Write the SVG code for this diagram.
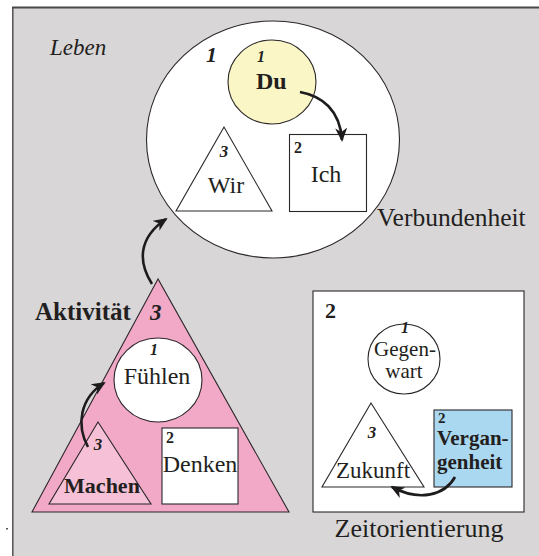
<svg xmlns="http://www.w3.org/2000/svg" width="539" height="556" viewBox="0 0 539 556">
<defs>
<style>
.ln{stroke:#2b2729;stroke-width:1.1;}
.t{font-family:"Liberation Serif","Times New Roman",serif;fill:#231f20;}
.b{font-weight:bold;}
.i{font-style:italic;}
.num{font-family:"Liberation Serif","Times New Roman",serif;fill:#231f20;font-weight:bold;font-style:italic;}
.arr{fill:none;stroke:#1e1b1d;stroke-width:2.6;marker-end:url(#ah);}
</style>
<marker id="ah" markerUnits="userSpaceOnUse" markerWidth="16" markerHeight="14" refX="12" refY="6" orient="auto" viewBox="0 0 16 12">
<path d="M0,0 L14,6 L0,12 L4,6 Z" fill="#1e1b1d"/>
</marker>
</defs>
<rect x="0" y="0" width="539" height="556" fill="#ffffff"/>
<rect x="12.5" y="7.5" width="530" height="552" fill="#d8d6d7"/>
<line x1="12" y1="7.5" x2="539" y2="7.5" stroke="#4a4749" stroke-width="2"/>
<line x1="12.8" y1="7" x2="12.8" y2="556" stroke="#4a4749" stroke-width="1.4"/>
<rect x="6" y="528" width="2" height="1.5" fill="#555"/>
<text class="t i" x="50" y="55" font-size="23">Leben</text>

<g id="verbundenheit">
<ellipse class="ln" cx="273" cy="139.5" rx="126.5" ry="118.5" fill="#ffffff"/>
<text class="num" x="206" y="62" font-size="22">1</text>
<text class="t" x="377" y="226" font-size="25.5">Verbundenheit</text>
</g>
<g id="du">
<ellipse class="ln" cx="272" cy="82" rx="44" ry="42" fill="#faf6c6"/>
<text class="num" x="257" y="62" font-size="16">1</text>
<text class="t b" x="256" y="89" font-size="24">Du</text>
</g>
<g id="ich">
<rect class="ln" x="289.5" y="134.5" width="77" height="77" fill="#ffffff"/>
<text class="t b" x="294" y="153" font-size="16">2</text>
<text class="t" x="326" y="182" font-size="24" text-anchor="middle">Ich</text>
</g>
<g id="wir">
<polygon class="ln" points="224,127 176,211 272,211" fill="#ffffff"/>
<text class="num" x="224" y="157" font-size="17" text-anchor="middle">3</text>
<text class="t" x="226" y="193" font-size="24" text-anchor="middle">Wir</text>
</g>

<g id="aktivitaet">
<polygon class="ln" points="158,279 32,512 289,512" fill="#f1a9c7"/>
<text class="t b" x="35" y="320" font-size="25">Aktivität</text>
<text class="num" x="150" y="320" font-size="23">3</text>
</g>
<g id="fuehlen">
<ellipse class="ln" cx="158" cy="380" rx="44" ry="42" fill="#ffffff"/>
<text class="num" x="150" y="355" font-size="16">1</text>
<text class="t" x="157" y="384" font-size="24" text-anchor="middle">Fühlen</text>
</g>
<g id="machen">
<polygon class="ln" points="98,422 49,504 151,504" fill="#f6c0d6"/>
<text class="num" x="98" y="450" font-size="17" text-anchor="middle">3</text>
<text class="t b" x="102" y="493" font-size="22" text-anchor="middle">Machen</text>
</g>
<g id="denken">
<rect class="ln" x="162" y="428" width="76" height="76" fill="#ffffff"/>
<text class="t b" x="166" y="443" font-size="16">2</text>
<text class="t" x="200" y="472" font-size="24" text-anchor="middle">Denken</text>
</g>

<g id="zeitorientierung">
<rect class="ln" x="313" y="291" width="211" height="221" fill="#ffffff"/>
<text class="t b" x="325" y="318" font-size="22">2</text>
<text class="t" x="419" y="537" font-size="26" text-anchor="middle">Zeitorientierung</text>
</g>
<g id="gegenwart">
<ellipse class="ln" cx="404" cy="359" rx="36" ry="35" fill="#ffffff"/>
<text class="num" x="405" y="333" font-size="16" text-anchor="middle">1</text>
<text class="t" x="405" y="356" font-size="21" text-anchor="middle">Gegen-</text>
<text class="t" x="404" y="378" font-size="21" text-anchor="middle">wart</text>
</g>
<g id="zukunft">
<polygon class="ln" points="371,403 322,487 424,487" fill="#ffffff"/>
<text class="num" x="372" y="438" font-size="17" text-anchor="middle">3</text>
<text class="t" x="373" y="478" font-size="23" text-anchor="middle">Zukunft</text>
</g>
<g id="vergangenheit">
<rect class="ln" x="434" y="410" width="78" height="77" fill="#abd8f1"/>
<text class="t b" x="438" y="423" font-size="15">2</text>
<text class="t b" x="437" y="445" font-size="21">Vergan-</text>
<text class="t b" x="437" y="469" font-size="21">genheit</text>
</g>

<g id="connectors">
<path class="arr" d="M300,92 C322,96 340,110 342,140"/>
<path class="arr" d="M152,284 C138,262 138,238 166,219"/>
<path class="arr" d="M88,447 C76,425 80,398 104,383"/>
<path class="arr" d="M455,477 C445,495 420,502 392,487"/>
</g>
</svg>
